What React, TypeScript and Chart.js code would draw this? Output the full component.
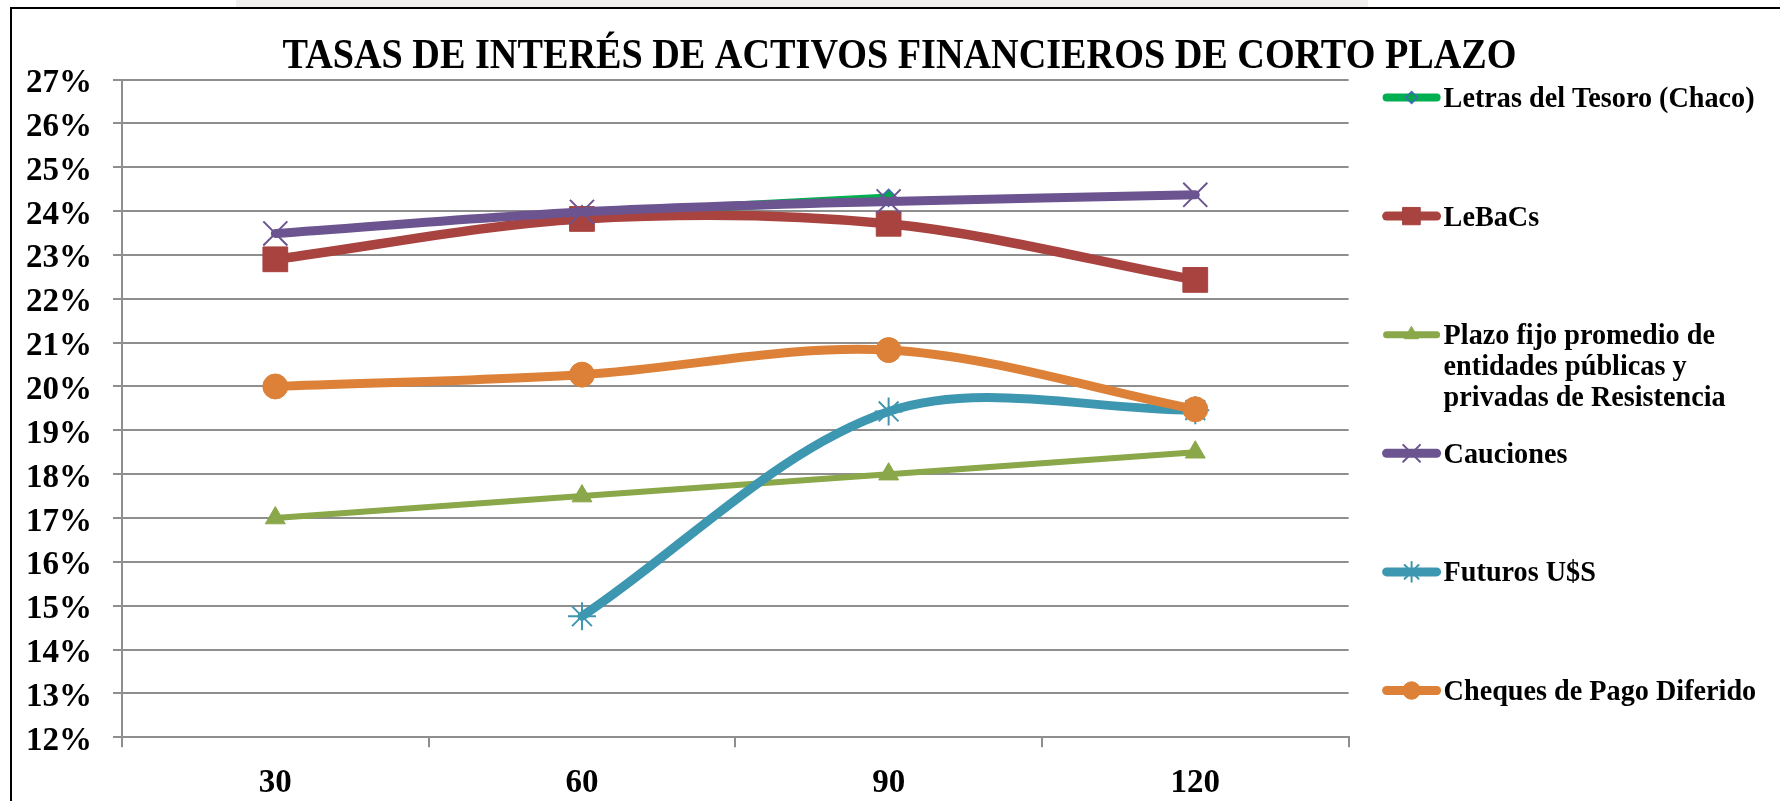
import React, { useEffect, useRef } from "react";
import { Chart, registerables } from "chart.js";
import { drawPoint } from "chart.js/helpers";

Chart.register(...registerables);

const TITLE = "TASAS DE INTERÉS DE ACTIVOS FINANCIEROS DE CORTO PLAZO";
const categories = ["30", "60", "90", "120"];
const yMin = 12;
const yMax = 27;

const letras = [null, 23.93, 24.3, null];
const lebacs = [22.9, 23.82, 23.71, 22.43];
const plazoFijo = [17.0, 17.5, 18.0, 18.5];
const cauciones = [23.49, 23.98, 24.22, 24.37];
const futuros = [null, 14.76, 19.43, 19.46];
const cheques = [20.0, 20.27, 20.83, 19.48];

const seriesNames = [
  "Letras del Tesoro (Chaco)",
  "LeBaCs",
  "Plazo fijo promedio de entidades públicas y privadas de Resistencia",
  "Cauciones",
  "Futuros U$S",
  "Cheques de Pago Diferido",
];
const legendLines = [
  ["Letras del Tesoro (Chaco)"],
  ["LeBaCs"],
  ["Plazo fijo promedio de", "entidades públicas y", "privadas de Resistencia"],
  ["Cauciones"],
  ["Futuros U$S"],
  ["Cheques de Pago Diferido"],
];

const FONT = "'Liberation Serif', 'Times New Roman', serif";

const styles = [
  { color: "#00B050", fill: "#00A650", stroke: "#4469B5", point: "rectRot", radius: 8.5, border: 1.5, width: 9, legendWidth: 8, tension: 0.33 },
  { color: "#A8433F", fill: "#A8433F", stroke: "#A8433F", point: "rect", radius: 17.5, border: 1, width: 9.5, legendWidth: 9, tension: 0.33 },
  { color: "#8AA74A", fill: "#8AA74A", stroke: "#8AA74A", point: "triangle", radius: 11.5, border: 1, width: 6, legendWidth: 7, tension: 0 },
  { color: "#6B5490", fill: "#6B5490", stroke: "#6B5490", point: "crossRot", radius: 17, border: 2, width: 9, legendWidth: 9, tension: 0.33 },
  { color: "#3E97B0", fill: "#3E97B0", stroke: "#3E97B0", point: "star", radius: 14, border: 2, width: 9, legendWidth: 9, tension: 0.33 },
  { color: "#DC8137", fill: "#DC8137", stroke: "#DC8137", point: "circle", radius: 12.5, border: 1, width: 9, legendWidth: 9, tension: 0.33 },
];

const seriesData = [letras, lebacs, plazoFijo, cauciones, futuros, cheques];

const titlePlugin = {
  id: "customTitle",
  afterDraw(chart: any) {
    const ctx = chart.ctx;
    ctx.save();
    ctx.font = `bold 43px ${FONT}`;
    const w = ctx.measureText(TITLE).width;
    const sx = 1234 / w;
    ctx.translate(899.5, 68);
    ctx.scale(sx, 1);
    ctx.textAlign = "center";
    ctx.textBaseline = "alphabetic";
    ctx.fillStyle = "#000";
    ctx.fillText(TITLE, 0, 0);
    ctx.restore();
  },
};

const legendPlugin = {
  id: "customLegend",
  afterDraw(chart: any) {
    const ctx = chart.ctx;
    const area = chart.chartArea;
    const x0 = area.right + 34;
    const x1 = x0 + 58;
    const cx = (x0 + x1) / 2;
    const size = 28.5;
    ctx.save();
    ctx.font = `bold ${size}px ${FONT}`;
    const sx = 311 / ctx.measureText(legendLines[0][0]).width;
    chart.data.datasets.forEach((ds: any, i: number) => {
      const st = styles[i];
      const y = area.top + 18 + i * 118.6;
      ctx.save();
      ctx.lineCap = "round";
      ctx.lineWidth = st.legendWidth;
      ctx.strokeStyle = st.color;
      ctx.beginPath();
      ctx.moveTo(x0 + 4, y);
      ctx.lineTo(x1 - 4, y);
      ctx.stroke();
      ctx.fillStyle = st.fill;
      ctx.strokeStyle = st.stroke;
      ctx.lineWidth = st.border;
      drawPoint(ctx, { pointStyle: st.point, radius: st.radius * 0.7, borderWidth: st.border, rotation: 0 } as any, cx, y);
      ctx.restore();
      ctx.fillStyle = "#000";
      ctx.textBaseline = "alphabetic";
      ctx.textAlign = "left";
      legendLines[i].forEach((line, j) => {
        ctx.save();
        ctx.translate(x1 + 3, y + 0.33 * size + j * 31);
        ctx.scale(sx, 1);
        ctx.fillText(line, 0, 0);
        ctx.restore();
      });
    });
    ctx.restore();
  },
};

export default function App() {
  const ref = useRef<HTMLCanvasElement | null>(null);

  useEffect(() => {
    if (!ref.current) return;
    const datasets = seriesData.map((d, i) => {
      const st = styles[i];
      return {
        label: seriesNames[i],
        data: d,
        borderColor: st.color,
        backgroundColor: st.fill,
        borderWidth: st.width,
        tension: st.tension,
        pointStyle: st.point,
        pointRadius: st.radius,
        pointBackgroundColor: st.fill,
        pointBorderColor: st.stroke,
        pointBorderWidth: st.border,
        borderCapStyle: "round",
        borderJoinStyle: "round",
        spanGaps: false,
        fill: false,
        order: 6 - i,
      };
    });
    const chart = new Chart(ref.current, {
      type: "line",
      data: { labels: categories, datasets: datasets as any },
      options: {
        responsive: false,
        animation: false,
        devicePixelRatio: 1,
        layout: { padding: { left: 0, top: 79.5, right: 431.4, bottom: 0 } },
        plugins: {
          legend: { display: false },
          title: { display: false },
          tooltip: { enabled: false },
        },
        scales: {
          x: {
            type: "category",
            offset: true,
            grid: {
              display: true,
              drawOnChartArea: false,
              offset: true,
              tickLength: 10,
              color: "#8e8e8e",
              lineWidth: 2,
            },
            border: { display: true, color: "#8e8e8e", width: 2 },
            ticks: {
              color: "#000",
              padding: 16,
              font: { family: FONT, size: 33, weight: "bold" },
              maxRotation: 0,
            },
            afterFit: (s: any) => {
              s.height = 63.7;
            },
          },
          y: {
            min: yMin,
            max: yMax,
            grid: { color: "#8e8e8e", lineWidth: 2, tickLength: 9 },
            border: { display: true, color: "#8e8e8e", width: 2 },
            ticks: {
              stepSize: 1,
              autoSkip: false,
              color: "#000",
              padding: 21,
              labelOffset: 4,
              font: { family: FONT, size: 33, weight: "bold" },
              callback: (v: any) => `${v}%`,
            },
            afterFit: (s: any) => {
              s.width = 122;
            },
          },
        },
      } as any,
      plugins: [titlePlugin, legendPlugin],
    });
    return () => chart.destroy();
  }, []);

  return (
    <div
      style={{
        position: "fixed",
        left: 0,
        top: 0,
        width: 1780,
        height: 801,
        background: "#fff",
        overflow: "hidden",
      }}
    >
      <div style={{ position: "absolute", left: 236, top: 0, width: 1132, height: 7, background: "#f1f0ee" }} />
      <div
        style={{
          position: "absolute",
          left: 10,
          top: 7,
          width: 1800,
          height: 900,
          borderLeft: "2px solid #000",
          borderTop: "2px solid #000",
        }}
      />
      <canvas
        ref={ref}
        width={1780}
        height={801}
        style={{ position: "absolute", left: 0, top: 0, display: "block" }}
      />
    </div>
  );
}
